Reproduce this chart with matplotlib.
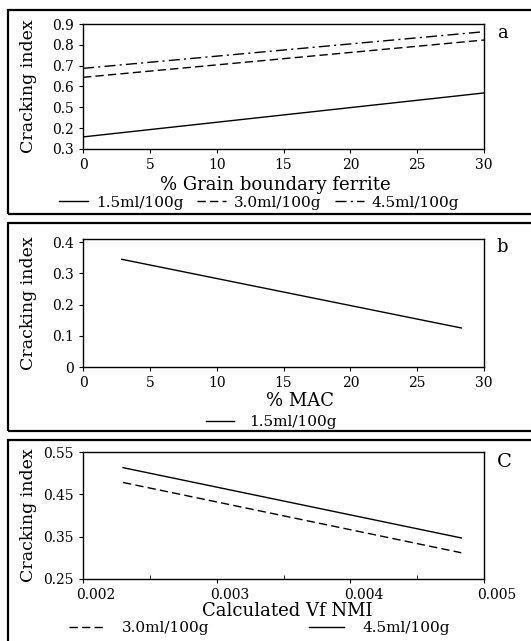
#!/usr/bin/env python3
"""
Cracking index vs microstructure, three stacked panels (a, b, c)
"""

import matplotlib
matplotlib.use('Agg')
import matplotlib.pyplot as plt
import matplotlib.transforms as mtransforms
from matplotlib.patches import Rectangle

plt.rcParams['font.family'] = 'DejaVu Serif'

# Panel a: grain boundary ferrite (y in axis position units, labels are as printed)
gbf_x = [0, 30]
gbf_15 = [0.358, 0.569]
gbf_30 = [0.644, 0.823]
gbf_45 = [0.687, 0.863]
a_yticks = [0.3, 0.4, 0.5, 0.6, 0.7, 0.8, 0.9]
a_ylabels = ['0.3', '0.2', '0.5', '0.6', '0.7', '0.8', '0.9']

# Panel b: MAC
mac_x = [2.9, 28.3]
mac_15 = [0.345, 0.125]

# Panel c: calculated Vf NMI
nmi_x = [0.0023, 0.00483]
nmi_30 = [0.478, 0.312]
nmi_45 = [0.513, 0.347]

W, H = 531, 641
fig = plt.figure(figsize=(W / 100, H / 100), dpi=100)

# outer boxes around each panel (pixel coords from top)
for top, bot in [(10, 214), (223, 431), (440, 646)]:
    fig.patches.append(Rectangle((8 / W, 1 - bot / H), 1.0, (bot - top) / H,
                                 transform=fig.transFigure, fill=False,
                                 lw=1.6, ec='black'))

def make_ax(top, bot):
    ax = fig.add_axes([83 / W, 1 - bot / H, 401 / W, (bot - top) / H])
    for s in ax.spines.values():
        s.set_linewidth(1.0)
    ax.tick_params(direction='out', length=3, width=0.8, labelsize=10)
    return ax

# --- a ---
ax1 = make_ax(24, 149)
ax1.plot(gbf_x, gbf_15, 'k-', lw=1.0, label='1.5ml/100g')
ax1.plot(gbf_x, gbf_30, 'k', lw=1.0, dashes=(6, 3), label='3.0ml/100g')
ax1.plot(gbf_x, gbf_45, 'k', lw=1.0, dashes=(8, 3, 1.5, 3), label='4.5ml/100g')
ax1.set_xlim(0, 30)
ax1.set_ylim(0.3, 0.9)
ax1.set_xticks([0, 5, 10, 15, 20, 25, 30])
ax1.set_yticks(a_yticks)
ax1.set_yticklabels(a_ylabels)
ax1.set_xlabel('% Grain boundary ferrite', fontsize=13)
ax1.set_ylabel('Cracking index', fontsize=12.5)
ax1.xaxis.set_label_coords(0.48, -0.215)
ax1.yaxis.set_label_coords(-0.115, 0.5)
ax1.text(1.032, 0.93, 'a', transform=ax1.transAxes, fontsize=13, va='center')
ax1.legend(loc='center', bbox_to_anchor=(0.44, -0.43), ncol=3, frameon=False,
           fontsize=11, handlelength=1.9, handletextpad=0.5, columnspacing=0.9,
           borderpad=0)

# --- b ---
ax2 = make_ax(239, 367)
ax2.plot(mac_x, mac_15, 'k-', lw=1.0, label='1.5ml/100g')
ax2.set_xlim(0, 30)
ax2.set_ylim(0, 0.41)
ax2.set_xticks([0, 5, 10, 15, 20, 25, 30])
ax2.set_yticks([0, 0.1, 0.2, 0.3, 0.4])
ax2.set_yticklabels(['0', '0.1', '0.2', '0.3', '0.4'])
ax2.set_xlabel('% MAC', fontsize=13)
ax2.set_ylabel('Cracking index', fontsize=12.5)
ax2.xaxis.set_label_coords(0.54, -0.195)
ax2.yaxis.set_label_coords(-0.115, 0.5)
ax2.text(1.032, 0.94, 'b', transform=ax2.transAxes, fontsize=13, va='center')
ax2.legend(loc='center', bbox_to_anchor=(0.47, -0.43), frameon=False,
           fontsize=11, handlelength=1.8, handletextpad=1.0, borderpad=0)

# --- c ---
ax3 = make_ax(452, 579)
ax3.plot(nmi_x, nmi_30, 'k', lw=1.0, dashes=(6, 3), label='3.0ml/100g')
ax3.plot(nmi_x, nmi_45, 'k-', lw=1.0, label='4.5ml/100g')
ax3.set_xlim(0.002, 0.005)
ax3.set_ylim(0.25, 0.55)
ax3.set_xticks([0.002, 0.003, 0.004, 0.005])
ax3.set_xticklabels(['0.002', '0.003', '0.004', '0.005'])
ax3.set_xticks([0.0025, 0.0035, 0.0045], minor=True)
ax3.tick_params(axis='x', which='minor', direction='in', length=3)
ax3.set_yticks([0.25, 0.35, 0.45, 0.55])
ax3.set_yticklabels(['0.25', '0.35', '0.45', '0.55'])
shift = mtransforms.ScaledTranslation(13 / 100, 0, fig.dpi_scale_trans)
for lbl in ax3.get_xticklabels():
    lbl.set_transform(lbl.get_transform() + shift)
ax3.set_xlabel('Calculated Vf NMI', fontsize=13)
ax3.set_ylabel('Cracking index', fontsize=12.5)
ax3.xaxis.set_label_coords(0.51, -0.185)
ax3.yaxis.set_label_coords(-0.115, 0.5)
ax3.text(1.032, 0.92, 'C', transform=ax3.transAxes, fontsize=14, va='center')
ax3.legend(loc='center', bbox_to_anchor=(0.44, -0.385), ncol=2, frameon=False,
           fontsize=11, handlelength=2.3, handletextpad=1.2, columnspacing=6.5,
           borderpad=0)

plt.savefig('out.png', dpi=100)
print('Saved out.png')
